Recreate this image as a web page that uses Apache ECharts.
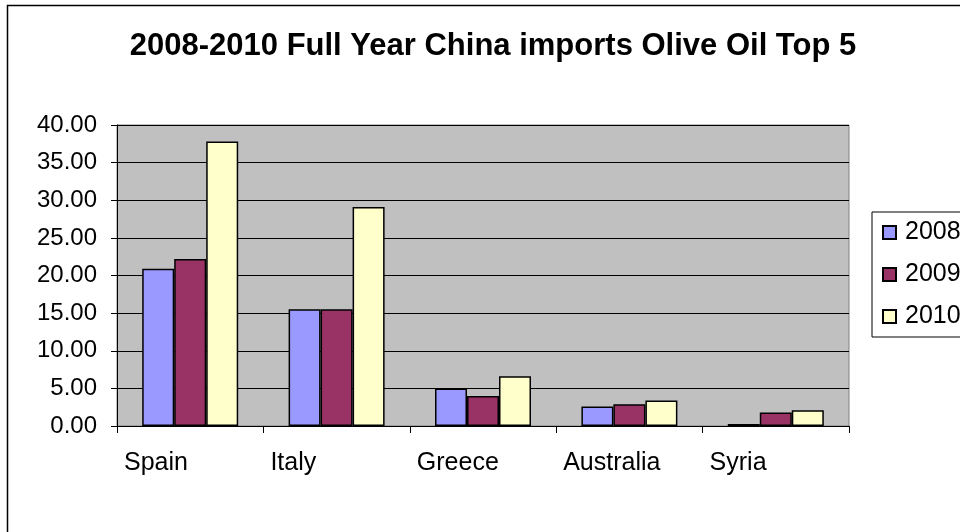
<!DOCTYPE html>
<html>
<head>
<meta charset="utf-8">
<script src="https://cdn.jsdelivr.net/npm/echarts@6/dist/echarts.min.js"></script>
<style>html,body{margin:0;padding:0;background:#fff}#c{width:960px;height:532px}</style>
</head>
<body>
<div id="c"></div>
<script>
var categories = ['Spain', 'Italy', 'Greece', 'Australia', 'Syria'];
var seriesNames = ['2008', '2009', '2010'];
var values2008 = [20.9, 15.5, 5.0, 2.6, 0.25];
var values2009 = [22.2, 15.5, 4.0, 2.9, 1.8];
var values2010 = [37.8, 29.1, 6.6, 3.4, 2.1];
var yTicks = { min: 0, max: 40, interval: 5 };
var titleText = '2008-2010 Full Year China imports Olive Oil Top 5';

var FONT = 'Liberation Sans, Arial, sans-serif';
var colors = ['#9999FF', '#993366', '#FFFFCC'];
var allValues = [values2008, values2009, values2010];

var chart = echarts.init(document.getElementById('c'), null, { renderer: 'canvas' });
var option = {
  animation: false,
  backgroundColor: '#ffffff',
  title: {
    text: titleText,
    left: 488, textAlign: 'center', top: 26,
    textStyle: { fontFamily: FONT, fontSize: 31, fontWeight: 'bold', color: '#000' }
  },
  graphic: [{
    type: 'rect', left: 5, top: 3, silent: true,
    shape: { width: 1000, height: 600 },
    style: { fill: null, stroke: '#000', lineWidth: 1.5 }
  }],
  legend: {
    orient: 'vertical', left: 872, top: 212,
    data: seriesNames,
    icon: 'rect',
    itemWidth: 13, itemHeight: 13, itemGap: 17,
    padding: [8, 30, 8, 10],
    borderColor: '#000', borderWidth: 1, backgroundColor: '#fff',
    textStyle: { fontFamily: FONT, fontSize: 25, color: '#000', padding: [0, 0, 0, 4] }
  },
  grid: {
    left: 117, right: 111, top: 125, bottom: 106,
    show: true, backgroundColor: '#C0C0C0', borderColor: '#808080', borderWidth: 1
  },
  xAxis: [{
    type: 'category', data: categories, position: 'bottom',
    axisLine: { lineStyle: { color: '#000', width: 1 } },
    axisTick: { show: true, length: 7, lineStyle: { color: '#000' } },
    axisLabel: { show: false }
  }, {
    type: 'category', data: categories.concat(['']), position: 'bottom', boundaryGap: false,
    axisLine: { show: false }, axisTick: { show: false }, splitLine: { show: false },
    axisLabel: { show: true, interval: 0, align: 'left', margin: 25, padding: [0, 0, 0, 7],
      fontFamily: FONT, fontSize: 25, color: '#000' }
  }],
  yAxis: {
    type: 'value', min: yTicks.min, max: yTicks.max, interval: yTicks.interval,
    axisLine: { show: true, lineStyle: { color: '#000', width: 1 } },
    axisTick: { show: true, length: 6, lineStyle: { color: '#000' } },
    splitLine: { show: true, lineStyle: { color: '#000', width: 1 } },
    axisLabel: { margin: 20, fontFamily: FONT, fontSize: 24, color: '#000',
      formatter: function (v) { return v.toFixed(2); } }
  },
  series: seriesNames.map(function (n, i) {
    return {
      name: n, type: 'bar', xAxisIndex: 0, data: allValues[i],
      barWidth: 32, barGap: '0%',
      itemStyle: { color: colors[i], borderColor: '#000', borderWidth: 1.5 }
    };
  })
};
chart.setOption(option);
</script>
</body>
</html>
